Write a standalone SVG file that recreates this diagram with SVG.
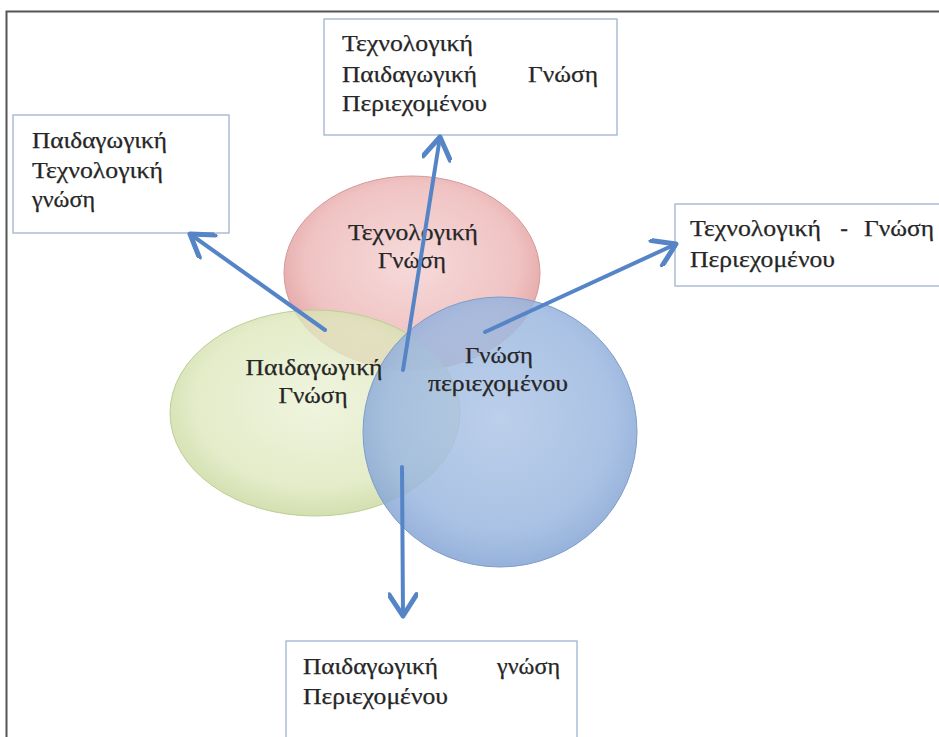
<svg xmlns="http://www.w3.org/2000/svg" width="939" height="737" viewBox="0 0 939 737">
<style>
text{font-family:"Liberation Serif","DejaVu Serif",serif;font-size:23px;fill:#262626;stroke:#262626;stroke-width:0.25}
.box{fill:#ffffff;stroke:#9fb3cf;stroke-width:1.3}
.arrow{fill:none;stroke:#5585c6;stroke-width:4;stroke-linecap:round}
.c{text-anchor:middle}
</style>
<defs>
<radialGradient id="gPink" cx="50%" cy="45%" r="55%">
<stop offset="0" stop-color="#f6dada"/><stop offset="0.75" stop-color="#f0c3c3"/><stop offset="1" stop-color="#e4a6a6"/>
</radialGradient>
<radialGradient id="gGreen" cx="50%" cy="45%" r="55%">
<stop offset="0" stop-color="#ecf2d6"/><stop offset="0.75" stop-color="#dde7bc"/><stop offset="1" stop-color="#c8d89c"/>
</radialGradient>
<radialGradient id="gBlue" cx="50%" cy="45%" r="55%">
<stop offset="0" stop-color="#b0c7e7"/><stop offset="0.75" stop-color="#9bb7df"/><stop offset="1" stop-color="#84a4d4"/>
</radialGradient>
<marker id="head" markerUnits="userSpaceOnUse" markerWidth="30" markerHeight="30" refX="20" refY="12" orient="auto" viewBox="0 0 24 24">
<path d="M3,1 L20,12 L3,23" fill="none" stroke="#5585c6" stroke-width="4" stroke-linecap="round" stroke-linejoin="round"/>
</marker>
</defs>
<rect width="939" height="737" fill="#ffffff"/>
<g id="frame">
<path d="M6.5,737 V11.5 H939" fill="none" stroke="#555555" stroke-width="2"/>
</g>
<g id="circle-tech">
<ellipse cx="412" cy="273" rx="128" ry="97" fill="url(#gPink)" stroke="#d49a9a" stroke-width="1"/>
</g>
<g id="circle-ped">
<ellipse cx="315" cy="413" rx="145" ry="103" fill="url(#gGreen)" fill-opacity="0.8" stroke="#bccf94" stroke-width="1"/>
</g>
<g id="circle-content">
<ellipse cx="500" cy="432" rx="137" ry="135" fill="url(#gBlue)" fill-opacity="0.85" stroke="#7f9dc9" stroke-width="1"/>
</g>
<g id="labels">
<text class="c" x="413" y="240" textLength="130" lengthAdjust="spacingAndGlyphs">Τεχνολογική</text>
<text class="c" x="412" y="268" textLength="68" lengthAdjust="spacingAndGlyphs">Γνώση</text>
<text class="c" x="314" y="375" textLength="137" lengthAdjust="spacingAndGlyphs">Παιδαγωγική</text>
<text class="c" x="313" y="403" textLength="69" lengthAdjust="spacingAndGlyphs">Γνώση</text>
<text class="c" x="499" y="363" textLength="68" lengthAdjust="spacingAndGlyphs">Γνώση</text>
<text class="c" x="498" y="391" textLength="140" lengthAdjust="spacingAndGlyphs">περιεχομένου</text>
</g>
<g id="box-tpck">
<rect class="box" x="324" y="19" width="293" height="116"/>
<text x="342" y="51" textLength="131" lengthAdjust="spacingAndGlyphs">Τεχνολογική</text>
<text x="342" y="82" textLength="135" lengthAdjust="spacingAndGlyphs">Παιδαγωγική</text>
<text x="528" y="82" textLength="70" lengthAdjust="spacingAndGlyphs">Γνώση</text>
<text x="342" y="111" textLength="145" lengthAdjust="spacingAndGlyphs">Περιεχομένου</text>
</g>
<g id="box-tpk">
<rect class="box" x="13" y="115" width="216" height="118"/>
<text x="32" y="148" textLength="135" lengthAdjust="spacingAndGlyphs">Παιδαγωγική</text>
<text x="32" y="178" textLength="131" lengthAdjust="spacingAndGlyphs">Τεχνολογική</text>
<text x="32" y="207" textLength="63" lengthAdjust="spacingAndGlyphs">γνώση</text>
</g>
<g id="box-tck">
<rect class="box" x="675" y="204" width="270" height="82"/>
<text x="690" y="236" textLength="131" lengthAdjust="spacingAndGlyphs">Τεχνολογική</text>
<text x="844" y="236" text-anchor="middle">-</text>
<text x="864" y="236" textLength="70" lengthAdjust="spacingAndGlyphs">Γνώση</text>
<text x="690" y="267" textLength="145" lengthAdjust="spacingAndGlyphs">Περιεχομένου</text>
</g>
<g id="box-pck">
<rect class="box" x="286" y="641" width="291" height="100"/>
<text x="303" y="674" textLength="135" lengthAdjust="spacingAndGlyphs">Παιδαγωγική</text>
<text x="497" y="674" textLength="63" lengthAdjust="spacingAndGlyphs">γνώση</text>
<text x="303" y="704" textLength="145" lengthAdjust="spacingAndGlyphs">Περιεχομένου</text>
</g>
<g id="connectors">
<line class="arrow" x1="403" y1="370" x2="440" y2="137" marker-end="url(#head)"/>
<line class="arrow" x1="325" y1="330" x2="190" y2="234" marker-end="url(#head)"/>
<line class="arrow" x1="485" y1="332" x2="676" y2="244" marker-end="url(#head)"/>
<line class="arrow" x1="402" y1="467" x2="403" y2="616" marker-end="url(#head)"/>
</g>
</svg>
